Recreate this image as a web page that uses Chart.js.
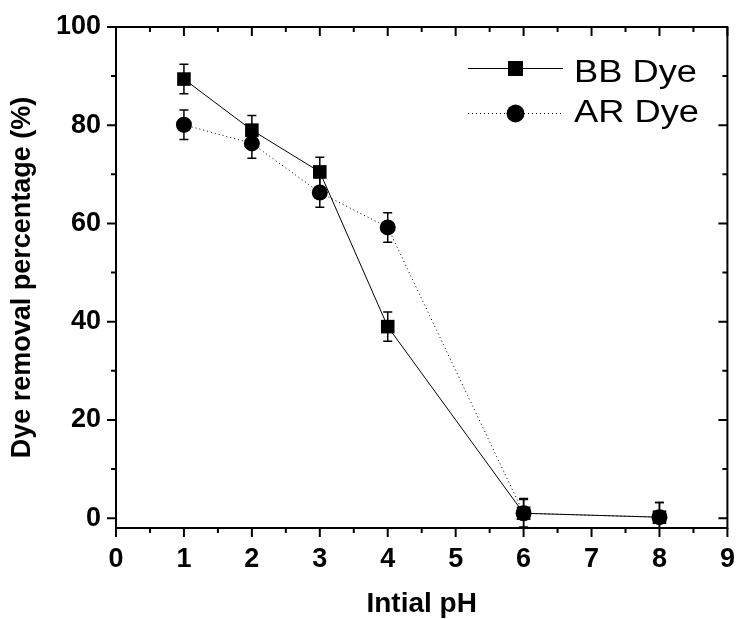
<!DOCTYPE html>
<html>
<head>
<meta charset="utf-8">
<script src="https://cdn.jsdelivr.net/npm/chart.js@4.4.1/dist/chart.umd.min.js"></script>
<style>
  html, body { margin: 0; padding: 0; background: #fff; }
  #wrap { width: 737px; height: 619px; }
</style>
</head>
<body>
<div id="wrap"><canvas id="c" width="737" height="619"></canvas></div>
<script>
// Initial pH of the solution
const phValues = [1, 2, 3, 4, 6, 8];
// Removal percentages for each dye
const bbRemoval = [89.4, 79.0, 70.5, 39.0, 1.0, 0.2];
const arRemoval = [80.1, 76.3, 66.3, 59.2, 1.0, 0.2];
// Standard deviations (error bars)
const bbError = [3, 3, 3, 3, 3, 3];
const arError = [3, 3, 3, 3, 2.8, 3];
// Axis tick labels
const xTicks = [0, 1, 2, 3, 4, 5, 6, 7, 8, 9];
const yTicks = [0, 20, 40, 60, 80, 100];
const xMinorTicks = [0.5, 1.5, 2.5, 3.5, 4.5, 5.5, 6.5, 7.5, 8.5];
const yMinorTicks = [10, 30, 50, 70, 90];
const seriesNames = ['BB Dye', 'AR Dye'];

const toPoints = (xs, ys) => xs.map((x, i) => ({ x: x, y: ys[i] }));

// Vertical error bars with caps, positioned through the chart scales
const errorBars = {
  id: 'errorBars',
  beforeDatasetsDraw(chart) {
    const { ctx, scales: { x, y } } = chart;
    const sets = [[bbRemoval, bbError], [arRemoval, arError]];
    ctx.save();
    ctx.strokeStyle = '#000';
    ctx.lineWidth = 1.5;
    sets.forEach(([vals, errs]) => {
      phValues.forEach((p, i) => {
        const px = x.getPixelForValue(p);
        const top = y.getPixelForValue(vals[i] + errs[i]);
        const bot = y.getPixelForValue(Math.max(vals[i] - errs[i], y.min));
        ctx.beginPath();
        ctx.moveTo(px, top); ctx.lineTo(px, bot);
        ctx.moveTo(px - 4.5, top); ctx.lineTo(px + 4.5, top);
        if (vals[i] - errs[i] >= y.min) { ctx.moveTo(px - 4.5, bot); ctx.lineTo(px + 4.5, bot); }
        ctx.stroke();
      });
    });
    ctx.restore();
  }
};

// Boxed frame with outward ticks on the left/bottom and inward ticks on the top/right
const axisFrame = {
  id: 'axisFrame',
  afterDraw(chart) {
    const { ctx, chartArea: a, scales: { x, y } } = chart;
    ctx.save();
    ctx.strokeStyle = '#000';
    ctx.lineWidth = 2;
    ctx.beginPath();
    ctx.rect(a.left, a.top, a.right - a.left, a.bottom - a.top);
    ctx.stroke();
    const major = 9, minor = 5;
    ctx.beginPath();
    const xt = (v, len) => {
      const px = x.getPixelForValue(v);
      ctx.moveTo(px, a.bottom); ctx.lineTo(px, a.bottom + len);
      ctx.moveTo(px, a.top); ctx.lineTo(px, a.top + len);
    };
    const yt = (v, len) => {
      const py = y.getPixelForValue(v);
      ctx.moveTo(a.left, py); ctx.lineTo(a.left - len, py);
      ctx.moveTo(a.right, py); ctx.lineTo(a.right - len, py);
    };
    xTicks.forEach(v => xt(v, major));
    xMinorTicks.forEach(v => xt(v, minor));
    yTicks.forEach(v => yt(v, major));
    yMinorTicks.forEach(v => yt(v, minor));
    ctx.stroke();
    ctx.restore();
  }
};

// Legend: line sample with its marker in the middle, followed by the name
const lineLegend = {
  id: 'lineLegend',
  afterDraw(chart) {
    const { ctx } = chart;
    ctx.save();
    chart.data.datasets.forEach((ds, i) => {
      const yy = 68.5 + i * 45;
      ctx.strokeStyle = '#000';
      ctx.lineWidth = 1;
      ctx.setLineDash(ds.borderDash || []);
      ctx.beginPath();
      ctx.moveTo(468, yy); ctx.lineTo(563, yy);
      ctx.stroke();
      ctx.setLineDash([]);
      ctx.fillStyle = '#000';
      ctx.beginPath();
      if (ds.pointStyle === 'rect') {
        ctx.rect(515.5 - 7.5, yy - 7.5, 15, 15);
      } else {
        ctx.arc(515.5, yy, 9, 0, Math.PI * 2);
      }
      ctx.fill();
      ctx.save();
      ctx.translate(574, i === 0 ? 82 : 122);
      ctx.scale(1.17, 1);
      ctx.font = '31px "Liberation Sans", Arial, sans-serif';
      ctx.textBaseline = 'alphabetic';
      ctx.textAlign = 'left';
      ctx.fillText(ds.label, 0, 0);
      ctx.restore();
    });
    ctx.restore();
  }
};

const tickFont = { family: '"Liberation Sans", Arial, sans-serif', size: 27, weight: 'bold' };
const titleFont = { family: '"Liberation Sans", Arial, sans-serif', size: 28, weight: 'bold', lineHeight: 1 };

new Chart(document.getElementById('c'), {
  type: 'scatter',
  data: {
    datasets: [
      {
        label: seriesNames[0],
        data: toPoints(phValues, bbRemoval),
        showLine: true,
        borderColor: '#000',
        borderWidth: 1,
        backgroundColor: '#000',
        pointStyle: 'rect',
        pointRadius: 9.6,
        pointHoverRadius: 9.6,
        pointBorderWidth: 0,
        clip: false
      },
      {
        label: seriesNames[1],
        data: toPoints(phValues, arRemoval),
        showLine: true,
        borderColor: '#000',
        borderWidth: 1,
        borderDash: [1, 3],
        backgroundColor: '#000',
        pointStyle: 'circle',
        pointRadius: 8,
        pointHoverRadius: 8,
        pointBorderWidth: 0,
        clip: false
      }
    ]
  },
  options: {
    responsive: false,
    animation: false,
    events: [],
    layout: { padding: { left: 0, top: 27, right: 9, bottom: 0 } },
    plugins: { legend: { display: false }, tooltip: { enabled: false } },
    scales: {
      x: {
        type: 'linear',
        position: 'bottom',
        min: 0,
        max: 9,
        afterBuildTicks: s => { s.ticks = xTicks.map(v => ({ value: v })); },
        afterFit: s => { s.height = 91; s.paddingLeft = 0; s.paddingRight = 0; },
        grid: { display: false, drawTicks: false },
        border: { display: false },
        ticks: { color: '#000', font: tickFont, padding: 15, maxRotation: 0, autoSkip: false },
        title: { display: true, text: 'Intial pH', color: '#000', font: titleFont, padding: { top: 0, bottom: 1 } }
      },
      y: {
        type: 'linear',
        position: 'left',
        min: -2,
        max: 100,
        afterBuildTicks: s => { s.ticks = yTicks.map(v => ({ value: v })); },
        afterFit: s => { s.width = 116; s.paddingTop = 0; s.paddingBottom = 0; },
        grid: { display: false, drawTicks: false },
        border: { display: false },
        ticks: { color: '#000', font: tickFont, padding: 15, autoSkip: false },
        title: { display: true, text: 'Dye removal percentage (%)', color: '#000', font: { family: '"Liberation Sans", Arial, sans-serif', size: 27, weight: 'bold', lineHeight: 1 }, padding: { top: 9, bottom: 0 } }
      }
    }
  },
  plugins: [errorBars, axisFrame, lineLegend]
});
</script>
</body>
</html>
